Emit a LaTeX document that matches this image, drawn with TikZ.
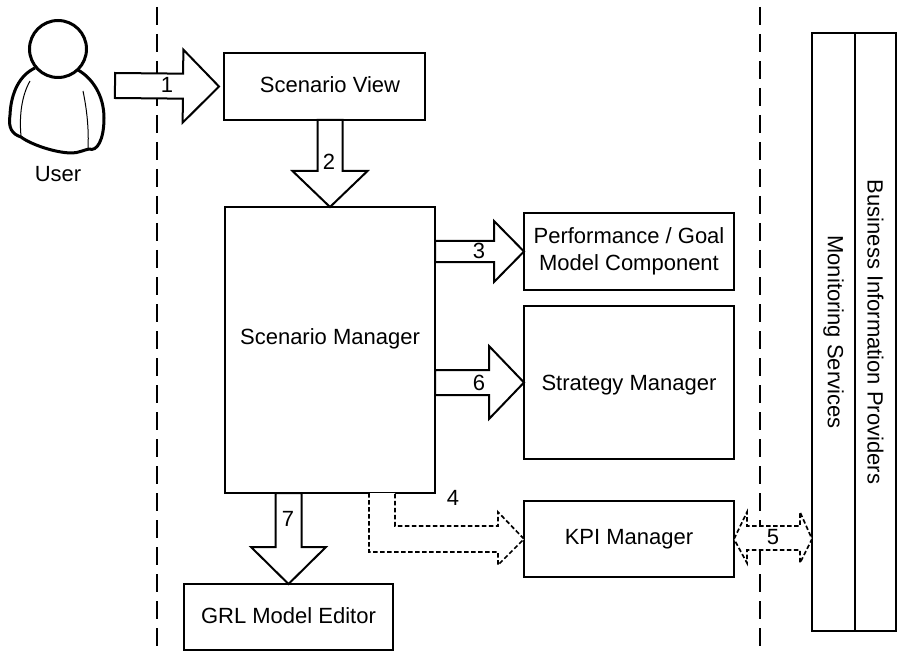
\documentclass[tikz,border=0pt]{standalone}
\usepackage{fontspec}
\setmainfont{Liberation Sans}
\usetikzlibrary{positioning, calc}

\tikzset{
    box/.style={draw, line width=2pt, outer sep=0pt, inner sep=2pt, align=center},
    num/.style={inner sep=0pt},
    lane/.style={line width=2pt, dash pattern=on 18pt off 9pt},
    fat/.style n args={3}{draw, line width=2pt, fill=white, miter limit=10, to path={
        ($(\tikztostart)!#1!90:(\tikztotarget)$)
        -- ($($(\tikztotarget)!#3!(\tikztostart)$)!#1!-90:(\tikztostart)$)
        -- ($($(\tikztotarget)!#3!(\tikztostart)$)!#2!-90:(\tikztostart)$)
        -- (\tikztotarget)
        -- ($($(\tikztotarget)!#3!(\tikztostart)$)!#2!90:(\tikztostart)$)
        -- ($($(\tikztotarget)!#3!(\tikztostart)$)!#1!90:(\tikztostart)$)
        -- ($(\tikztostart)!#1!-90:(\tikztotarget)$)
        -- cycle}},
    dots/.style={draw, line width=1.7pt, fill=white, dash pattern=on 4.5pt off 2.5pt}
}

\begin{document}
\begin{tikzpicture}[x=1pt, y=-1pt, font=\fontsize{22}{26}\selectfont]
            \useasboundingbox (0,0) rectangle (897,655);

            % swimlane borders
            \coordinate (LaneATop) at (157,7);
            \coordinate (LaneABot) at (157,655);
            \coordinate (LaneBTop) at (760,7);
            \coordinate (LaneBBot) at (760,655);
            \draw [lane] (LaneATop) -- (LaneABot);
            \draw [lane] (LaneBTop) -- (LaneBBot);

            \node [box, minimum width=210pt, minimum height=286pt, text depth=26pt] (Manager) at (330,350) {Scenario Manager};
            \node [box, minimum width=201pt, minimum height=67pt, text depth=3pt, above=87pt of Manager, xshift=-5.5pt] (View) {\hspace*{11pt}Scenario View};
            \node [box, minimum width=209pt, minimum height=66pt, text depth=3pt, below=91pt of Manager, xshift=-41.5pt] (GRL) {GRL Model Editor};
            \node [box, minimum width=210pt, minimum height=153pt, text height=20pt, right=89pt of Manager, yshift=-32.5pt] (Strategy) {Strategy Manager};
            \node [box, minimum width=210pt, minimum height=77pt, above=16pt of Strategy] (Perf) {Performance / Goal\\[1pt]Model Component};
            \node [box, minimum width=210pt, minimum height=76pt, below=42pt of Strategy] (KPI) {KPI Manager};

            \node [box, rotate=-90, minimum width=598pt, minimum height=43pt] (Monitor) at (833.5,332) {Monitoring Services};
            \node [box, rotate=-90, minimum width=598pt, minimum height=41pt] (Providers) at (875.5,332) {Business Information Providers};

            % the user
            \draw [line width=3pt, fill=white, line join=round]
                (35,68) .. controls (20,75) and (11,92) .. (10,115)
                .. controls (8,128) and (12,134) .. (21,137)
                .. controls (30,144) and (55,153) .. (72,153)
                .. controls (78,153) and (84,150) .. (89,149)
                .. controls (97,152) and (104,140) .. (104,118)
                .. controls (104,95) and (92,78) .. (78,70);
            \draw [line width=1pt] (30,81) .. controls (22,95) and (19,115) .. (21,136);
            \draw [line width=1pt] (83,91) .. controls (87,110) and (89,130) .. (88,149);
            \node [circle, draw, line width=3pt, fill=white, minimum size=57pt, inner sep=0pt] (UserHead) at (58,49) {};
            \node [below=84pt of UserHead] (UserName) {User};

            % block arrows
            \coordinate (UserOut) at (115,85.5);
            \draw [fat={12.5pt}{36.5pt}{36pt}] (UserOut) to ([xshift=-5pt]View.west);
            \draw [fat={12.5pt}{37.5pt}{36pt}] (Manager.north |- View.south) to (Manager.north);
            \draw [fat={10.5pt}{30.5pt}{30pt}] (Manager.east |- Perf.west) to (Perf.west);
            \draw [fat={12.5pt}{36.5pt}{35pt}] (Manager.east |- Strategy.west) to (Strategy.west);
            \draw [fat={13pt}{37.5pt}{37pt}] (GRL.north |- Manager.south) to (GRL.north);

            % calls that are optional
            \draw [dots] ($(Manager.south)+(39,0)$) |- ($(KPI.west)+(-26,13)$)
                -- ($(KPI.west)+(-26,26)$) -- (KPI.west) -- ($(KPI.west)+(-26,-27)$)
                -- ($(KPI.west)+(-26,-13)$) -| ($(Manager.south)+(65,0)$);
            \draw [dots] (KPI.east) -- ($(KPI.east)+(13,-27)$) -- ($(KPI.east)+(13,-13)$)
                -- ($(Monitor.south |- KPI.east)+(-12,-13)$) -- ($(Monitor.south |- KPI.east)+(-12,-27)$)
                -- (Monitor.south |- KPI.east) -- ($(Monitor.south |- KPI.east)+(-12,24)$)
                -- ($(Monitor.south |- KPI.east)+(-12,11)$) -- ($(KPI.east)+(13,11)$)
                -- ($(KPI.east)+(13,24)$) -- cycle;

            \node [num] (One) at (167,85) {1};
            \node [num] (Two) at (329,162) {2};
            \node [num] (Three) at (479,251) {3};
            \node [num] (Four) at (453,498) {4};
            \node [num] (Five) at (773,537) {5};
            \node [num] (Six) at (479,383) {6};
            \node [num] (Seven) at (288,519) {7};

        \end{tikzpicture}
\end{document}
